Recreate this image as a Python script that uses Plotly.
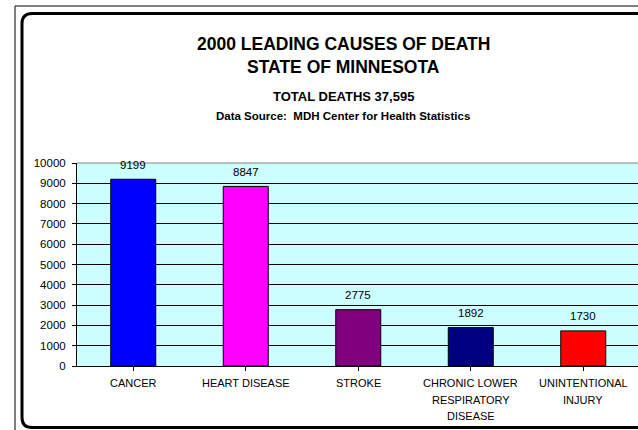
import plotly.graph_objects as go

# ---- data ----
categories = ["CANCER", "HEART DISEASE", "STROKE",
              "CHRONIC LOWER<br>RESPIRATORY<br>DISEASE", "UNINTENTIONAL<br>INJURY"]
deaths = [9199, 8847, 2775, 1892, 1730]
bar_colors = ["#0000FF", "#FF00FF", "#800080", "#000080", "#FF0000"]
y_ticks = [0, 1000, 2000, 3000, 4000, 5000, 6000, 7000, 8000, 9000, 10000]
title_lines = ["2000 LEADING CAUSES OF DEATH", "STATE OF MINNESOTA"]
subtitle_1 = "TOTAL DEATHS 37,595"
subtitle_2 = "Data Source:  MDH Center for Health Statistics"

W, H = 638, 430
L, R, T, B = 77, 0, 163, 64
PW, PH = W - L - R, H - T - B
FONT = "Liberation Sans, Arial, sans-serif"


def px(x):
    return (x - L) / PW


def py(y):
    return (H - B - y) / PH


fig = go.Figure()
fig.add_trace(go.Bar(
    x=list(range(len(categories))), y=deaths,
    marker=dict(color=bar_colors, line=dict(color="black", width=1)),
    width=0.4, hoverinfo="skip",
))

annotations = []
# value labels
for i, v in enumerate(deaths):
    annotations.append(dict(x=i, y=v, xref="x", yref="y", text=str(v),
                            showarrow=False, yshift=14.5, yanchor="middle",
                            font=dict(family=FONT, size=11.5, color="black")))
# category labels (one annotation per line for Excel-like line spacing)
for i, c in enumerate(categories):
    for j, line in enumerate(c.split("<br>")):
        annotations.append(dict(x=i, y=0, xref="x", yref="y", text=line,
                                showarrow=False, yanchor="middle",
                                yshift=-(17 + 16.6 * j),
                                font=dict(family=FONT, size=11, color="black")))
# titles
cx = px(343)
annotations += [
    dict(x=cx, y=py(32), xref="paper", yref="paper", text="<b>%s</b>" % title_lines[0],
         showarrow=False, font=dict(family=FONT, size=17.5, color="black")),
    dict(x=cx, y=py(55), xref="paper", yref="paper", text="<b>%s</b>" % title_lines[1],
         showarrow=False, font=dict(family=FONT, size=17.5, color="black")),
    dict(x=cx, y=py(87), xref="paper", yref="paper", text="<b>%s</b>" % subtitle_1,
         showarrow=False, font=dict(family=FONT, size=13, color="black")),
    dict(x=cx, y=py(108), xref="paper", yref="paper", text="<b>%s</b>" % subtitle_2,
         showarrow=False, font=dict(family=FONT, size=11.5, color="black")),
]

# frame shapes
fx, ftop, fbot, r = 22, 13.5, 427.5, 10
frame = ("M %f,%f L %f,%f Q %f,%f %f,%f L %f,%f Q %f,%f %f,%f L %f,%f" % (
    px(W + 10), py(ftop),
    px(fx + r), py(ftop),
    px(fx), py(ftop), px(fx), py(ftop + r),
    px(fx), py(fbot - r),
    px(fx), py(fbot), px(fx + r), py(fbot),
    px(W + 10), py(fbot)))
shapes = [
    dict(type="line", xref="paper", yref="paper", x0=px(15), x1=px(15),
         y0=py(6), y1=py(H + 5), line=dict(color="black", width=1)),
    dict(type="line", xref="paper", yref="paper", x0=px(15), x1=px(W + 5),
         y0=py(6), y1=py(6), line=dict(color="black", width=1)),
    dict(type="path", xref="paper", yref="paper", path=frame,
         line=dict(color="black", width=3)),
    # plot-area top border (grey)
    dict(type="line", xref="paper", yref="paper", x0=0, x1=1, y0=1, y1=1,
         line=dict(color="#808080", width=1)),
]

fig.update_layout(
    width=W, height=H,
    margin=dict(l=L, r=R, t=T, b=B, pad=0),
    paper_bgcolor="white", plot_bgcolor="#CCFFFF",
    showlegend=False,
    annotations=annotations, shapes=shapes,
    xaxis=dict(range=[-0.5, -0.5 + PW / 112.5], tickmode="array",
               tickvals=list(range(len(categories))), ticktext=[""] * len(categories),
               showticklabels=False, showgrid=False, zeroline=False,
               showline=True, linecolor="black", linewidth=1,
               ticks="outside", tickson="boundaries", ticklen=4, tickcolor="black",
               fixedrange=True),
    yaxis=dict(range=[0, 10000], tickmode="array", tickvals=y_ticks,
               ticktext=[str(t) for t in y_ticks],
               showgrid=True, gridcolor="black", gridwidth=1, zeroline=False,
               showline=True, linecolor="black", linewidth=1,
               ticks="outside", ticklen=4, tickcolor="black", ticklabelstandoff=4,
               tickfont=dict(family=FONT, size=11.5, color="black"),
               fixedrange=True),
)

fig.write_html("out.html", config={"displayModeBar": False},
               post_script="document.body.style.margin='0';document.body.style.overflow='hidden';")
